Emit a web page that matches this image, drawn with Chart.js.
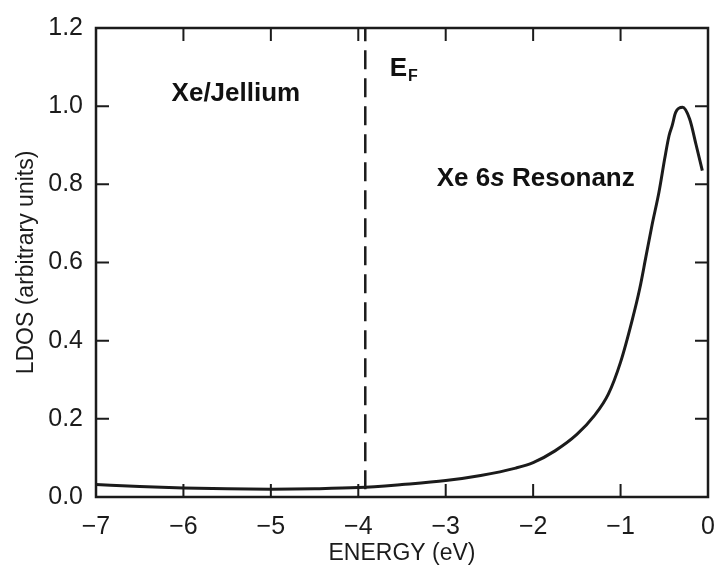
<!DOCTYPE html>
<html>
<head>
<meta charset="utf-8">
<script src="https://cdn.jsdelivr.net/npm/chart.js"></script>
<style>
  html, body { margin: 0; padding: 0; background: #fff; }
  #wrap { width: 716px; height: 569px; position: relative; }
</style>
</head>
<body>
<div id="wrap"><canvas id="c"></canvas></div>
<script>
// LDOS of Xe on jellium
const energy = [-7, -6.5, -6, -5.5, -5, -4.5, -4, -3.5, -3, -2.6, -2.2, -2, -1.75, -1.5, -1.3, -1.14,
                -1.0, -0.87, -0.78, -0.71, -0.64, -0.56, -0.495, -0.445, -0.41, -0.37, -0.29, -0.21, -0.135, -0.065];
const ldos = [0.032, 0.027, 0.023, 0.021, 0.02, 0.021, 0.024, 0.032, 0.042, 0.055, 0.074, 0.088, 0.118, 0.16, 0.208, 0.263,
              0.345, 0.45, 0.534, 0.615, 0.696, 0.781, 0.866, 0.925, 0.95, 0.984, 0.997, 0.967, 0.9, 0.835];
const fermiEnergy = -3.92;
const fermiRange = [0.02, 1.2];
const xTicks = [-7, -6, -5, -4, -3, -2, -1, 0];
const yTicks = [0, 0.2, 0.4, 0.6, 0.8, 1.0, 1.2];

const ink = '#1b1b1b';
const axisFont = "'Liberation Sans', Arial, sans-serif";

// cadre + graduations vers l'intérieur sur les quatre côtés
const framePlugin = {
  id: 'frame',
  afterDraw(chart) {
    const { ctx, chartArea: a, scales } = chart;
    ctx.save();
    ctx.strokeStyle = ink;
    ctx.lineWidth = 2.5;
    ctx.strokeRect(a.left, a.top, a.right - a.left, a.bottom - a.top);
    ctx.lineWidth = 2;
    const len = 13;
    xTicks.slice(1, -1).forEach(v => {
      const px = scales.x.getPixelForValue(v);
      ctx.beginPath();
      ctx.moveTo(px, a.bottom); ctx.lineTo(px, a.bottom - len);
      ctx.moveTo(px, a.top); ctx.lineTo(px, a.top + len);
      ctx.stroke();
    });
    yTicks.slice(1, -1).forEach(v => {
      const py = scales.y.getPixelForValue(v);
      ctx.beginPath();
      ctx.moveTo(a.left, py); ctx.lineTo(a.left + len, py);
      ctx.moveTo(a.right, py); ctx.lineTo(a.right - len, py);
      ctx.stroke();
    });

    // annotations
    const X = v => scales.x.getPixelForValue(v);
    const Y = v => scales.y.getPixelForValue(v);
    ctx.fillStyle = '#111';
    ctx.textBaseline = 'alphabetic';
    ctx.font = "bold 26px 'Liberation Sans', Arial, sans-serif";
    ctx.textAlign = 'center';
    ctx.fillText('Xe/Jellium', X(-5.4), Y(1.013));

    // Xe 6s Resonanz (s en italique)
    ctx.textAlign = 'left';
    const p1 = 'Xe 6', p2 = 's', p3 = ' Resonanz';
    const fB = "bold 26px 'Liberation Sans', Arial, sans-serif";
    const fI = "italic bold 26px 'Liberation Sans', Arial, sans-serif";
    ctx.font = fB; const w1 = ctx.measureText(p1).width, w3 = ctx.measureText(p3).width;
    ctx.font = fI; const w2 = ctx.measureText(p2).width;
    let sx = X(-1.97) - (w1 + w2 + w3) / 2;
    const sy = Y(0.795);
    ctx.font = fB; ctx.fillText(p1, sx, sy); sx += w1;
    ctx.font = fI; ctx.fillText(p2, sx, sy); sx += w2;
    ctx.font = fB; ctx.fillText(p3, sx, sy);

    // E_F
    ctx.font = "bold 26px 'Liberation Sans', Arial, sans-serif";
    const ex = X(-3.64), ey = Y(1.076);
    ctx.fillText('E', ex, ey);
    const we = ctx.measureText('E').width;
    ctx.font = "bold 16px 'Liberation Sans', Arial, sans-serif";
    ctx.fillText('F', ex + we + 1, ey + 5);
    ctx.restore();
  }
};

new Chart(document.getElementById('c').getContext('2d'), {
  type: 'line',
  data: {
    datasets: [
      {
        label: 'LDOS',
        data: energy.map((e, i) => ({ x: e, y: ldos[i] })),
        borderColor: ink,
        borderWidth: 3,
        pointRadius: 0,
        fill: false,
        cubicInterpolationMode: 'monotone'
      },
      {
        label: 'EF',
        data: fermiRange.map(y => ({ x: fermiEnergy, y: y })),
        borderColor: ink,
        borderWidth: 2.5,
        borderDash: [19, 9],
        pointRadius: 0,
        fill: false
      }
    ]
  },
  options: {
    responsive: true,
    maintainAspectRatio: false,
    animation: false,
    layout: { padding: { left: 0, right: 0, top: 23, bottom: 0 } },
    plugins: {
      legend: { display: false },
      tooltip: { enabled: false }
    },
    scales: {
      x: {
        type: 'linear',
        min: -7,
        max: 0,
        afterBuildTicks: s => { s.ticks = xTicks.map(v => ({ value: v })); },
        afterFit: s => { s.height = 72; s.paddingRight = 8; s.paddingLeft = 0; },
        grid: { display: false, drawTicks: false },
        border: { display: false },
        ticks: {
          color: ink,
          padding: 15,
          font: { family: axisFont, size: 25 },
          callback: v => v < 0 ? '\u2212' + Math.abs(v) : String(v)
        },
        title: {
          display: true,
          text: 'ENERGY (eV)',
          color: ink,
          padding: { top: 0, bottom: 2 },
          font: { family: axisFont, size: 23 }
        }
      },
      y: {
        min: 0,
        max: 1.2,
        afterBuildTicks: s => { s.ticks = yTicks.map(v => ({ value: v })); },
        afterFit: s => { s.width = 96; },
        grid: { display: false, drawTicks: false },
        border: { display: false },
        ticks: {
          color: ink,
          padding: 13,
          font: { family: axisFont, size: 25 },
          callback: v => Number(v).toFixed(1)
        },
        title: {
          display: true,
          text: 'LDOS (arbitrary units)',
          color: ink,
          padding: { top: 13, bottom: 0 },
          font: { family: axisFont, size: 23 }
        }
      }
    }
  },
  plugins: [framePlugin]
});
</script>
</body>
</html>
